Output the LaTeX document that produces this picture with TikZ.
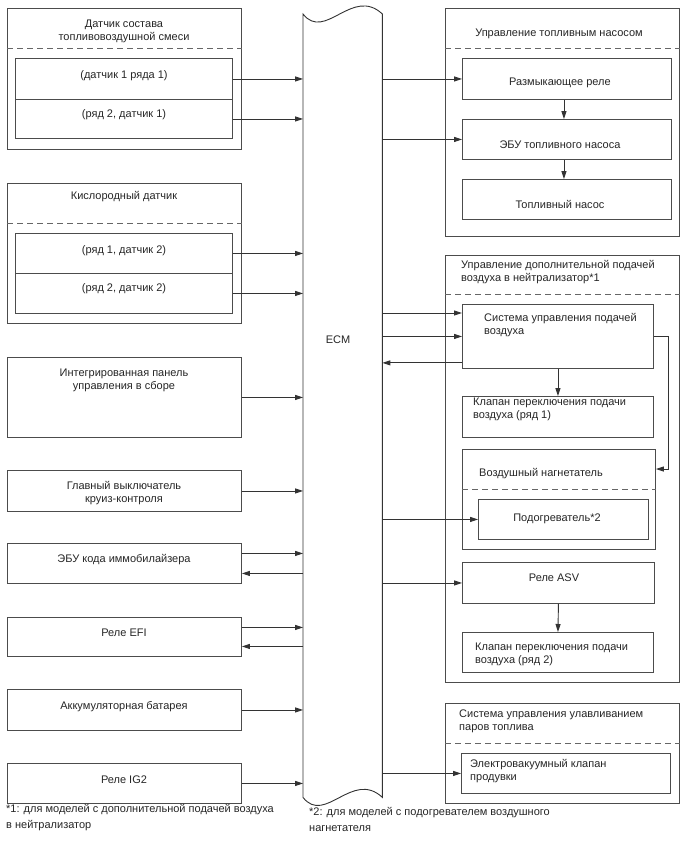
\documentclass[tikz,border=0pt]{standalone}
\usepackage{fontspec}
\setmainfont{Liberation Sans}
\usetikzlibrary{arrows.meta}
\begin{document}
\begin{tikzpicture}[x=1pt,y=-1pt,
  every node/.style={font=\fontsize{11}{13}\selectfont, text=black!85, inner sep=0pt},
  box/.style={draw=black!70, line width=0.9pt, rectangle, inner sep=0pt, anchor=north west},
  txt/.style={align=center},
  ltxt/.style={align=left, anchor=west},
  note/.style={align=left, anchor=west, font=\fontsize{11}{16}\selectfont},
  dsh/.style={draw=black!60, line width=0.9pt, dash pattern=on 6pt off 4pt},
  wire/.style={draw=black!80, line width=0.9pt},
  arr/.style={wire, -{Triangle[length=8pt,width=5pt]}}]
\useasboundingbox[fill=white] (0,0) rectangle (688,852);

% ---------- ECM ----------
\node[anchor=north west, minimum width=79pt, minimum height=783pt] (ECM) at (303,14) {};
\draw[wire] (ECM.south west) -- (ECM.north west)
  .. controls +(22,28) and +(-30,-28) .. (ECM.north east)
  -- (ECM.south east)
  .. controls +(-30,-28) and +(22,28) .. (ECM.south west) -- cycle;
\node (ECMt) at (338,340) {ECM};

% ---------- left side ----------
\node[box, minimum width=234pt, minimum height=141pt] (L1) at (7,8) {};
\draw[dsh] ([yshift=-40pt]L1.north west) -- ([yshift=-40pt]L1.north east);
\node[txt] (L1t) at (124,31.5) {Датчик состава\\топливовоздушной смеси};
\node[box, minimum width=217pt, minimum height=41pt] (L1a) at (15,58) {};
\node[box, minimum width=217pt, minimum height=39pt] (L1b) at (15,99) {};
\node[txt] (L1at) at (124,76) {(датчик 1 ряда 1)};
\node[txt] (L1bt) at (124,115) {(ряд 2, датчик 1)};

\node[box, minimum width=234pt, minimum height=140pt] (L2) at (7,183) {};
\draw[dsh] ([yshift=-40pt]L2.north west) -- ([yshift=-40pt]L2.north east);
\node[txt] (L2t) at (124,197) {Кислородный датчик};
\node[box, minimum width=217pt, minimum height=40pt] (L2a) at (15,233) {};
\node[box, minimum width=217pt, minimum height=40pt] (L2b) at (15,273) {};
\node[txt] (L2at) at (124,251) {(ряд 1, датчик 2)};
\node[txt] (L2bt) at (124,289) {(ряд 2, датчик 2)};

\node[box, minimum width=234pt, minimum height=80pt] (L3) at (7,357) {};
\node[txt] (L3t) at (124,380.5) {Интегрированная панель\\управления в сборе};
\node[box, minimum width=234pt, minimum height=41pt] (L4) at (7,470) {};
\node[txt] (L4t) at (124,493) {Главный выключатель\\круиз-контроля};
\node[box, minimum width=234pt, minimum height=40pt] (L5) at (7,543) {};
\node[txt] (L5t) at (124,560) {ЭБУ кода иммобилайзера};
\node[box, minimum width=234pt, minimum height=39pt] (L6) at (7,617) {};
\node[txt] (L6t) at (124,633) {Реле EFI};
\node[box, minimum width=234pt, minimum height=41pt] (L7) at (7,689) {};
\node[txt] (L7t) at (124,707) {Аккумуляторная батарея};
\node[box, minimum width=234pt, minimum height=40pt] (L8) at (7,763) {};
\node[txt] (L8t) at (124,780) {Реле IG2};

% left arrows
\draw[arr] (L1a.east) -- (L1a.east -| ECM.west);
\draw[arr] (L1b.east) -- (L1b.east -| ECM.west);
\draw[arr] (L2a.east) -- (L2a.east -| ECM.west);
\draw[arr] (L2b.east) -- (L2b.east -| ECM.west);
\draw[arr] (L3.east) -- (L3.east -| ECM.west);
\draw[arr] (L4.east) -- (L4.east -| ECM.west);
\coordinate (L5o) at ([yshift=10pt]L5.east);
\coordinate (L5i) at ([yshift=-10pt]L5.east);
\draw[arr] (L5o) -- (L5o -| ECM.west);
\draw[arr] (L5i -| ECM.west) -- (L5i);
\coordinate (L6o) at ([yshift=9.5pt]L6.east);
\coordinate (L6i) at ([yshift=-9.5pt]L6.east);
\draw[arr] (L6o) -- (L6o -| ECM.west);
\draw[arr] (L6i -| ECM.west) -- (L6i);
\draw[arr] (L7.east) -- (L7.east -| ECM.west);
\draw[arr] (L8.east) -- (L8.east -| ECM.west);

% ---------- right side: fuel pump ----------
\node[box, minimum width=234pt, minimum height=228pt] (R1) at (445,8) {};
\draw[dsh] ([yshift=-40pt]R1.north west) -- ([yshift=-40pt]R1.north east);
\node[txt] (R1t) at (559,34) {Управление топливным насосом};
\node[box, minimum width=209pt, minimum height=41pt] (R1a) at (462,58) {};
\node[box, minimum width=209pt, minimum height=40pt] (R1b) at (462,119) {};
\node[box, minimum width=209pt, minimum height=40pt] (R1c) at (462,179) {};
\node[txt] (R1at) at (560,83) {Размыкающее реле};
\node[txt] (R1bt) at (560,145) {ЭБУ топливного насоса};
\node[txt] (R1ct) at (560,204) {Топливный насос};
\draw[arr] (ECM.east |- R1a.west) -- (R1a.west);
\draw[arr] (ECM.east |- R1b.west) -- (R1b.west);
\draw[arr] ([xshift=-3pt]R1a.south) -- ([xshift=-3pt]R1b.north);
\draw[arr] ([xshift=-3pt]R1b.south) -- ([xshift=-3pt]R1c.north);

% ---------- right side: secondary air ----------
\node[box, minimum width=234pt, minimum height=427pt] (R2) at (445,255) {};
\draw[dsh] ([yshift=-39pt]R2.north west) -- ([yshift=-39pt]R2.north east);
\node[ltxt] (R2t) at (461,272.5) {Управление дополнительной подачей\\воздуха в нейтрализатор*1};
\node[box, minimum width=191pt, minimum height=64pt] (R2a) at (462,304) {};
\node[ltxt] (R2at) at (484,325.5) {Система управления подачей\\воздуха};
\node[box, minimum width=191pt, minimum height=41pt] (R2b) at (462,396) {};
\node[ltxt] (R2bt) at (473,409.5) {Клапан переключения подачи\\воздуха (ряд 1)};
\node[box, minimum width=193pt, minimum height=100pt] (R2c) at (462,449) {};
\draw[dsh] ([yshift=-40pt]R2c.north west) -- ([yshift=-40pt]R2c.north east);
\node[ltxt] (R2ct) at (479,474) {Воздушный нагнетатель};
\node[box, minimum width=170pt, minimum height=40pt] (R2ci) at (478,499) {};
\node[txt] (R2cit) at (557,519) {Подогреватель*2};
\node[box, minimum width=192pt, minimum height=41pt] (R2d) at (462,562) {};
\node[txt] (R2dt) at (554,578) {Реле ASV};
\node[box, minimum width=191pt, minimum height=40pt] (R2e) at (462,632) {};
\node[ltxt] (R2et) at (475,654) {Клапан переключения подачи\\воздуха (ряд 2)};

\coordinate (R2a1) at ([yshift=-9pt]R2a.north west);
\coordinate (R2a3) at ([yshift=6pt]R2a.south west);
\draw[arr] (R2a1 -| ECM.east) -- (R2a1);
\draw[arr] (R2a.west -| ECM.east) -- (R2a.west);
\draw[arr] (R2a3) -- (R2a3 -| ECM.east);
\draw[arr] (R2a.south) -- (R2b.north);
\coordinate (R2k) at ([xshift=15pt]R2a.east);
\coordinate (R2ce) at ([yshift=-20pt]R2c.north east);
\draw[arr] (R2a.east) -- (R2k) |- (R2ce);
\draw[arr] (ECM.east |- R2ci.west) -- (R2ci.west);
\draw[arr] (ECM.east |- R2d.west) -- (R2d.west);
\draw[arr] (R2d.south) -- (R2e.north);

% ---------- right side: evap ----------
\node[box, minimum width=234pt, minimum height=100pt] (R3) at (445,703) {};
\draw[dsh] ([yshift=-40pt]R3.north west) -- ([yshift=-40pt]R3.north east);
\node[ltxt] (R3t) at (459,721.5) {Система управления улавливанием\\паров топлива};
\node[box, minimum width=209pt, minimum height=40pt] (R3a) at (461,753) {};
\node[ltxt] (R3at) at (470,771.5) {Электровакуумный клапан\\продувки};
\draw[arr] (ECM.east |- R3a.west) -- (R3a.west);

% ---------- footnotes ----------
\node[note] (N1) at (6,818) {*1: для моделей с дополнительной подачей воздуха\\в нейтрализатор};
\node[note] (N2) at (309,819.5) {*2: для моделей с подогревателем воздушного\\нагнетателя};
\end{tikzpicture}
\end{document}
